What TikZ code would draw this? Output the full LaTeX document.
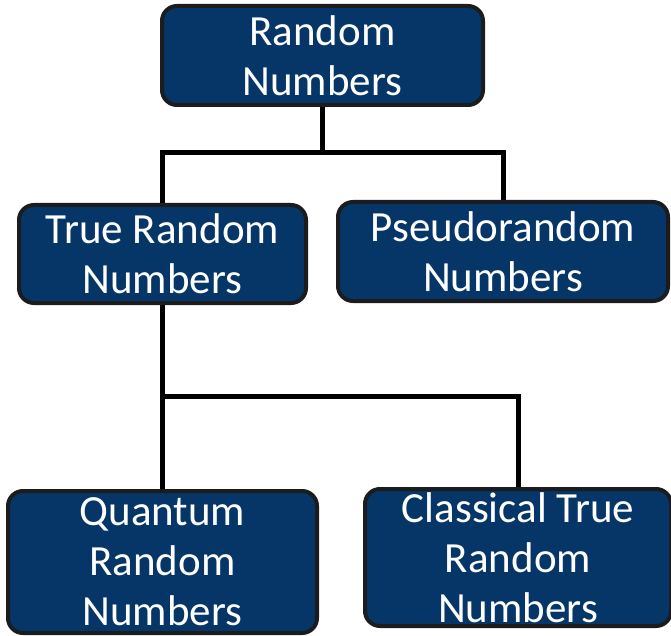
\documentclass[tikz,border=0pt]{standalone}
\usepackage{fontspec}
\setmainfont{Carlito}
\usepackage{tikz}
\definecolor{boxblue}{RGB}{6,54,103}
\definecolor{boxedge}{RGB}{26,28,30}
\tikzstyle{box} = [rectangle,
                   rounded corners=15pt,
                   fill=boxblue,
                   draw=boxedge,
                   line width=4pt,
                   text=white,
                   align=center,
                   inner sep=0pt,
                   font=\fontsize{43}{50}\selectfont]
\tikzstyle{link} = [line width=5pt,
                    draw=black]

\begin{document}
\begin{tikzpicture}[x=1pt,y=-1pt]

  \useasboundingbox (0,0) rectangle (671,636);

  % Nodes
  \node[box, minimum width=321pt, minimum height=99pt] (rn) at (322.5,55.5) {Random\\Numbers};
  \node[box, minimum width=287pt, minimum height=98pt] (trn) at (162.5,254) {True Random\\Numbers};
  \node[box, minimum width=330pt, minimum height=99pt] (prn) at (503,251.5) {Pseudorandom\\Numbers};
  \node[box, minimum width=309pt, minimum height=142pt] (qrn) at (162.5,562) {Quantum\\Random\\Numbers};
  \node[box, minimum width=306pt, minimum height=137pt] (ctrn) at (518,557.5) {Classical True\\Random\\Numbers};

  % Edges
  \draw[link] (rn.south) -- ++(0,46) coordinate (split1);
  \draw[link] (trn.north) |- (split1) -| (prn.north);
  \draw[link] (trn.south) -- ++(0,91) coordinate (split2) -- (qrn.north);
  \draw[link] (split2) -| (ctrn.north);

\end{tikzpicture}
\end{document}
